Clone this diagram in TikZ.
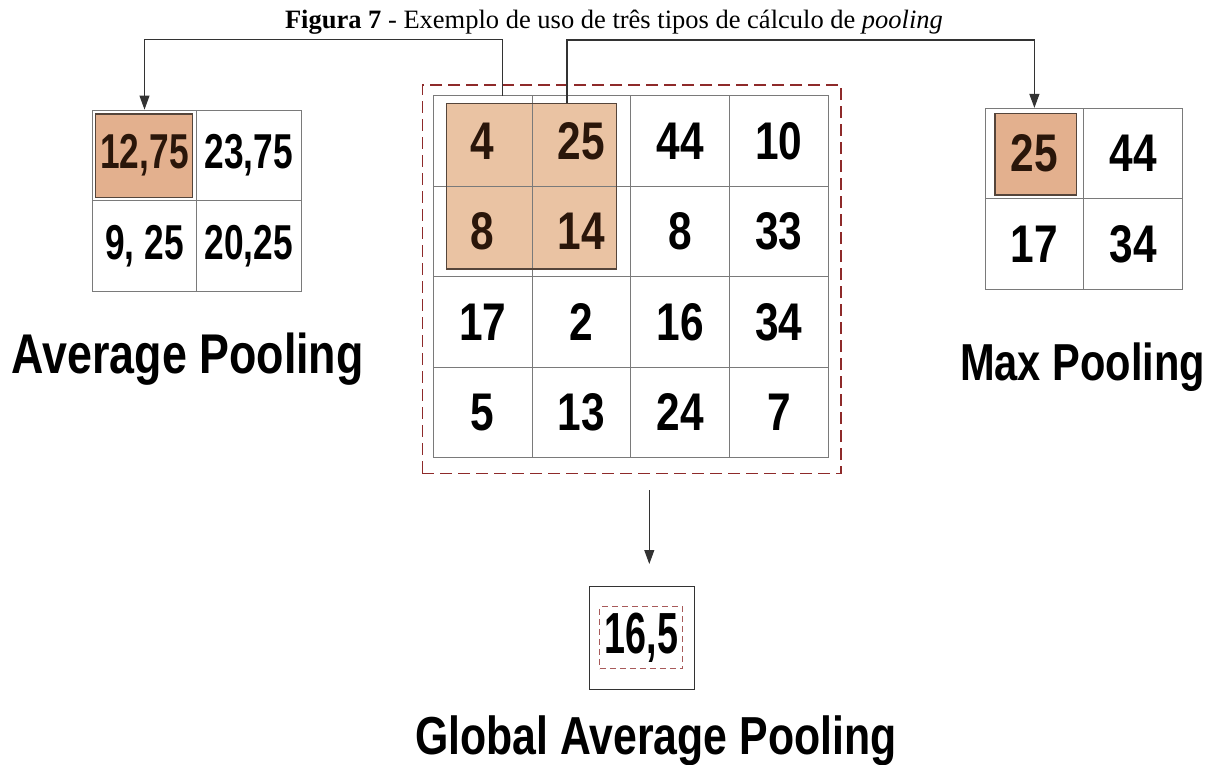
\documentclass[tikz,border=0pt]{standalone}
\usepackage{fontspec}
\setmainfont{Liberation Serif}
\newfontfamily\numfont[FakeStretch=0.8]{Liberation Sans}
\newfontfamily\numfontn[FakeStretch=0.72]{Liberation Sans}
\newfontfamily\numfontg[FakeStretch=0.65]{Liberation Sans}
\usetikzlibrary{arrows.meta,calc}
\definecolor{peach}{HTML}{EAC3A3}
\definecolor{peachd}{HTML}{E3B08E}
\definecolor{dred}{HTML}{8E2A2A}
\definecolor{lred}{HTML}{A85A5A}
\definecolor{dbrown}{HTML}{2A160A}
\definecolor{gridc}{HTML}{7A7A7A}
\definecolor{connc}{HTML}{333333}
\begin{document}
\begin{tikzpicture}[x=1pt,y=-1pt,
  cellc/.style={draw=gridc,line width=0.9pt,minimum width=98.75pt,minimum height=90.5pt,inner sep=0pt,
    font={\numfont\bfseries\fontsize{53}{60}\selectfont}},
  cella/.style={draw=gridc,line width=0.9pt,minimum width=104.35pt,minimum height=90.85pt,inner sep=0pt,
    font={\numfontn\bfseries\fontsize{49}{56}\selectfont}},
  cellm/.style={draw=gridc,line width=0.9pt,minimum width=98.85pt,minimum height=90.35pt,inner sep=0pt,
    font={\numfont\bfseries\fontsize{53}{60}\selectfont}},
  hl/.style={draw=dbrown!80,line width=1.3pt,inner sep=0pt},
  conn/.style={draw=connc,line width=1pt,-{Triangle[length=14pt,width=10pt]}},
  lbl/.style={anchor=base west,inner sep=0pt,font={\numfont\bfseries\fontsize{#1}{#1}\selectfont}},
  hot/.style={text=dbrown}
]
\useasboundingbox (0,0) rectangle (1232,765);

% title
\node[anchor=base,inner sep=0pt] (title) at (614,28.5)
  {\fontsize{26.5}{30}\selectfont\textbf{Figura 7} - Exemplo de uso de três tipos de cálculo de \textit{pooling}};

% center dashed frame
\node[draw=dred,line width=1.4pt,dash pattern=on 12pt off 6pt,minimum width=418.7pt,minimum height=388.3pt,inner sep=0pt] (frame) at (631.7,279.2) {};

% highlights
\node[hl,fill=peach,minimum width=170pt,minimum height=165.7pt] (hc) at (531.7,186.2) {};
\node[hl,fill=peachd,minimum width=97pt,minimum height=83.3pt] (ha) at (144.2,155.7) {};
\node[hl,fill=peachd,minimum width=81.7pt,minimum height=81.7pt] (hm) at (1035.9,154.2) {};

% center grid
\node[cellc,hot] (c11) at (482.675,140.95) {4};
\node[cellc,hot] (c12) at (581.425,140.95) {25};
\node[cellc] (c13) at (680.175,140.95) {44};
\node[cellc] (c14) at (778.925,140.95) {10};
\node[cellc,hot] (c21) at (482.675,231.45) {8};
\node[cellc,hot] (c22) at (581.425,231.45) {14};
\node[cellc] (c23) at (680.175,231.45) {8};
\node[cellc] (c24) at (778.925,231.45) {33};
\node[cellc] (c31) at (482.675,321.95) {17};
\node[cellc] (c32) at (581.425,321.95) {2};
\node[cellc] (c33) at (680.175,321.95) {16};
\node[cellc] (c34) at (778.925,321.95) {34};
\node[cellc] (c41) at (482.675,412.45) {5};
\node[cellc] (c42) at (581.425,412.45) {13};
\node[cellc] (c43) at (680.175,412.45) {24};
\node[cellc] (c44) at (778.925,412.45) {7};
\node[hl] at (hc) [minimum width=170pt,minimum height=165.7pt] {};

% average pooling grid
\node[cella,hot] (a11) at (144.5,155.45) {12,75};
\node[cella] (a12) at (248.85,155.45) {23,75};
\node[cella] (a21) at (144.5,246.3) {9, 25};
\node[cella] (a22) at (248.85,246.3) {20,25};

% max pooling grid
\node[cellm,hot] (m11) at (1034.4,153.5) {25};
\node[cellm] (m12) at (1133.25,153.5) {44};
\node[cellm] (m21) at (1034.4,243.85) {17};
\node[cellm] (m22) at (1133.25,243.85) {34};

% global average pooling
\node[draw=connc,line width=1pt,minimum width=105pt,minimum height=103.3pt,inner sep=0pt] (gbox) at (641.8,637.7) {};
\node[draw=lred,line width=1pt,dash pattern=on 6pt off 4pt,minimum width=82.7pt,minimum height=62.3pt,inner sep=0pt,
  font={\numfontg\bfseries\fontsize{58}{64}\selectfont}] (gval) at (641.3,637.8) {16,5};

% labels
\node[lbl=56] (lavg) at (11.7,373.3) {Average Pooling};
\node[lbl=52] (lmax) at (960,380) {Max Pooling};
\node[lbl=53.5] (lgap) at (415,754) {Global Average Pooling};

% connectors
\coordinate (s1) at (502,96);
\coordinate (s2) at (567,103.3);
\coordinate (top) at (0,40);
\coordinate (g1) at (649.3,490);
\coordinate (g2) at (649.3,564);
\draw[conn] (s1) -- (s1 |- top) -| (a11.north);
\draw[conn,line width=1.2pt] (s2) -- (s2 |- top) -| (m11.north);
\draw[conn] (g1) -- (g2);
\end{tikzpicture}
\end{document}
